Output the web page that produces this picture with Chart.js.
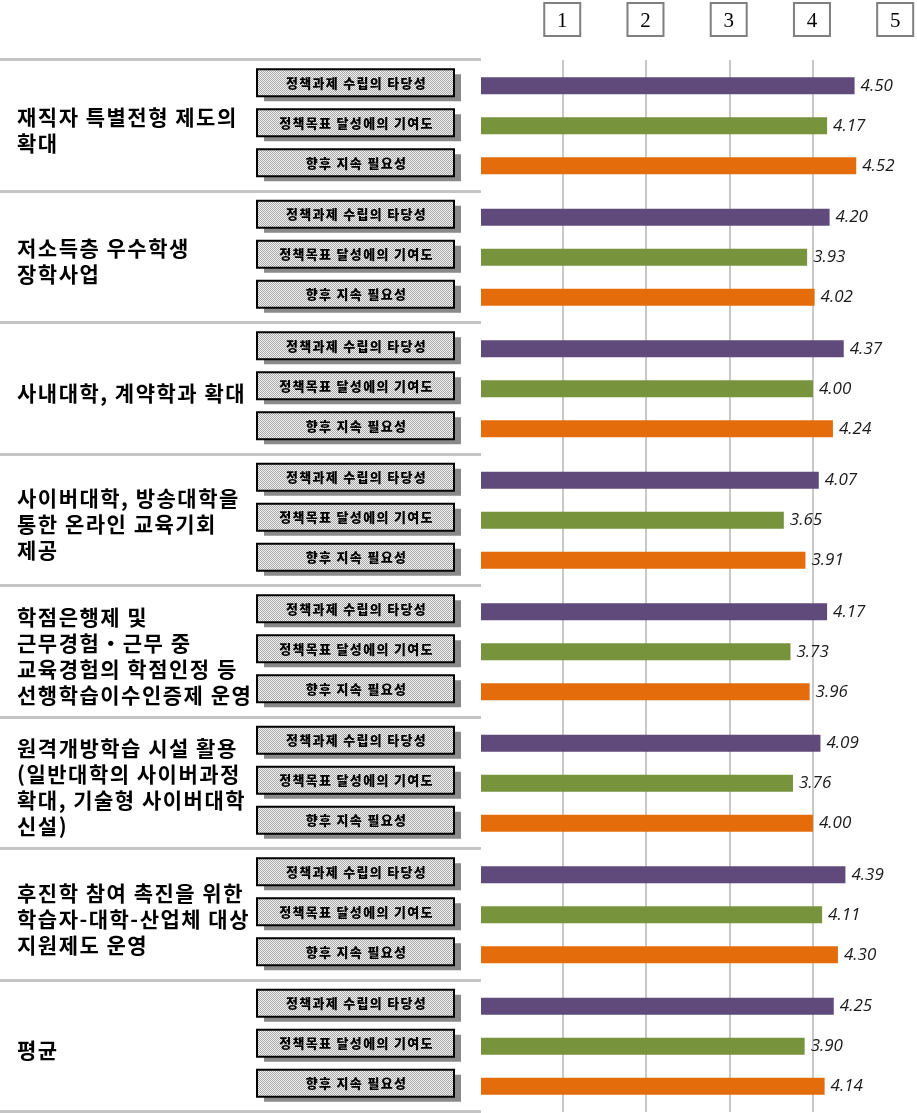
<!DOCTYPE html>
<html>
<head>
<meta charset="utf-8">
<script src="https://cdn.jsdelivr.net/npm/chart.js@4/dist/chart.umd.min.js"></script>
<style>
html,body{margin:0;padding:0;background:#fff;}
#wrap{width:917px;height:1113px;position:relative;}
</style>
</head>
<body>
<div id="wrap"><canvas id="c" width="917" height="1113"></canvas></div>
<script>
const categories = [
  ["재직자 특별전형 제도의", "확대"],
  ["저소득층 우수학생", "장학사업"],
  ["사내대학, 계약학과 확대"],
  ["사이버대학, 방송대학을", "통한 온라인 교육기회", "제공"],
  ["학점은행제 및", "근무경험・근무 중", "교육경험의 학점인정 등", "선행학습이수인증제 운영"],
  ["원격개방학습 시설 활용", "(일반대학의 사이버과정", "확대, 기술형 사이버대학", "신설)"],
  ["후진학 참여 촉진을 위한", "학습자-대학-산업체 대상", "지원제도 운영"],
  ["평균"]
];
const seriesNames = ["정책과제 수립의 타당성", "정책목표 달성에의 기여도", "향후 지속 필요성"];
const validity     = [4.50, 4.20, 4.37, 4.07, 4.17, 4.09, 4.39, 4.25];
const contribution = [4.17, 3.93, 4.00, 3.65, 3.73, 3.76, 4.11, 3.90];
const necessity    = [4.52, 4.02, 4.24, 3.91, 3.96, 4.00, 4.30, 4.14];
const tickLabels = ["1", "2", "3", "4", "5"];
const tickValues = [1, 2, 3, 4, 5];

const colors = ["#604A7B", "#77933C", "#E46C0A"];

function makePattern(ctx) {
  const p = document.createElement('canvas');
  p.width = 2; p.height = 2;
  const pc = p.getContext('2d');
  pc.fillStyle = '#f2f2f2'; pc.fillRect(0, 0, 2, 2);
  pc.fillStyle = '#a8a8a8'; pc.fillRect(0, 0, 1, 1); pc.fillRect(1, 1, 1, 1);
  return ctx.createPattern(p, 'repeat');
}

const sidePlugin = {
  id: 'side',
  afterDraw(chart) {
    const ctx = chart.ctx;
    const ys = chart.scales.y;
    const xs = chart.scales.x;
    const area = chart.chartArea;
    const step = (area.bottom - area.top) / categories.length;
    ctx.save();
    // top tick boxes
    tickValues.forEach((v, i) => {
      const px = xs.getPixelForValue(v) - 1;
      ctx.fillStyle = '#fff';
      ctx.fillRect(px - 18, 3, 36, 33);
      ctx.strokeStyle = '#7f7f7f';
      ctx.lineWidth = 2;
      ctx.strokeRect(px - 18, 3, 36, 33);
      ctx.fillStyle = '#000';
      ctx.font = '21px "Liberation Serif", "DejaVu Serif", serif';
      ctx.textAlign = 'center';
      ctx.textBaseline = 'middle';
      ctx.fillText(tickLabels[i], px, 21);
    });
    // separators
    ctx.strokeStyle = '#c4c4c4';
    ctx.lineWidth = 3;
    for (let i = 0; i <= categories.length; i++) {
      const y = Math.round(area.top + i * step) - 0.5;
      ctx.beginPath();
      ctx.moveTo(0, y);
      ctx.lineTo(481, y);
      ctx.stroke();
    }
    const pat = makePattern(ctx);
    categories.forEach((lines, i) => {
      const cy = ys.getPixelForValue(i);
      // group label
      ctx.fillStyle = '#000';
      ctx.font = 'bold 21px "Noto Sans CJK KR", sans-serif';
      ctx.letterSpacing = '1.5px';
      ctx.textAlign = 'left';
      ctx.textBaseline = 'middle';
      const lh = 26;
      const y0 = cy + 4 - (lines.length - 1) * lh / 2;
      lines.forEach((t, j) => ctx.fillText(t, 17, y0 + j * lh));
      // small boxes
      for (let k = 0; k < 3; k++) {
        const meta = chart.getDatasetMeta(k);
        const by = meta.data[i].y - 3;
        const bx = 257, bw = 197, bh = 27;
        ctx.fillStyle = '#8a8a8a';
        ctx.fillRect(bx + 7, by - bh / 2 + 5, bw, bh);
        ctx.fillStyle = pat;
        ctx.fillRect(bx, by - bh / 2, bw, bh);
        ctx.strokeStyle = '#000';
        ctx.lineWidth = 2;
        ctx.strokeRect(bx, by - bh / 2, bw, bh);
        ctx.fillStyle = '#000';
        ctx.font = '900 13px "Noto Sans CJK KR", sans-serif';
        ctx.letterSpacing = '1.3px';
        ctx.textAlign = 'center';
        ctx.fillText(seriesNames[k], bx + bw / 2 + 1, by);
      }
    });
    ctx.letterSpacing = '0px';
    ctx.restore();
  },
  afterDatasetsDraw(chart) {
    const ctx = chart.ctx;
    ctx.save();
    ctx.fillStyle = '#1a1a1a';
    ctx.font = 'italic 17px "Open Sans", "Noto Sans", sans-serif';
    ctx.textAlign = 'left';
    ctx.textBaseline = 'middle';
    chart.data.datasets.forEach((ds, k) => {
      const meta = chart.getDatasetMeta(k);
      meta.data.forEach((bar, i) => {
        ctx.fillText(ds.data[i].toFixed(2), bar.x + 6, bar.y);
      });
    });
    ctx.restore();
  }
};

new Chart(document.getElementById('c'), {
  type: 'bar',
  data: {
    labels: categories,
    datasets: [
      { label: seriesNames[0], data: validity, backgroundColor: colors[0] },
      { label: seriesNames[1], data: contribution, backgroundColor: colors[1] },
      { label: seriesNames[2], data: necessity, backgroundColor: colors[2] }
    ]
  },
  options: {
    indexAxis: 'y',
    responsive: false,
    animation: false,
    categoryPercentage: 0.9125,
    barPercentage: 0.425,
    layout: { padding: { left: 480, top: 60, right: 0, bottom: 1 } },
    plugins: { legend: { display: false }, tooltip: { enabled: false } },
    scales: {
      x: {
        min: 0, max: 5.25,
        ticks: { display: false, stepSize: 1 },
        border: { display: false },
        grid: {
          drawTicks: false,
          lineWidth: 2,
          color: c => (c.tick && [1, 2, 3, 4].includes(c.tick.value)) ? '#c8c8c8' : 'rgba(0,0,0,0)'
        }
      },
      y: { display: false }
    }
  },
  plugins: [sidePlugin]
});
</script>
</body>
</html>
